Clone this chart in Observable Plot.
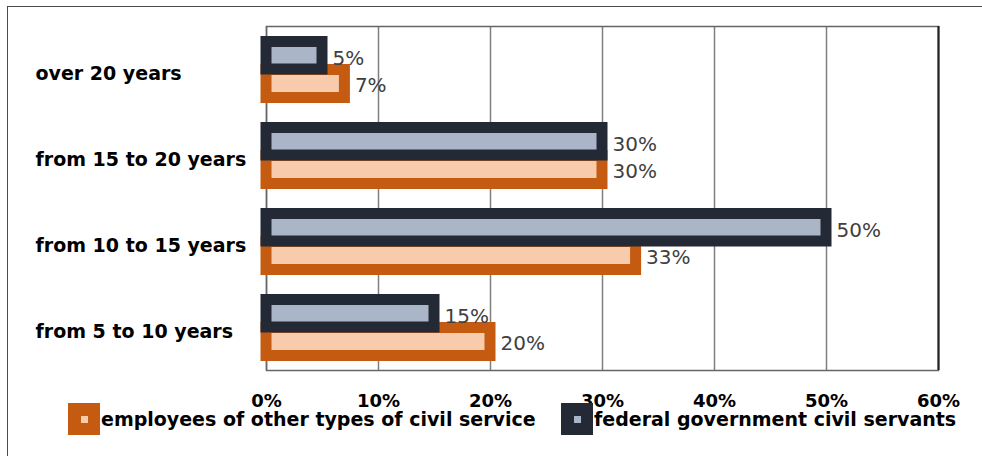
<!DOCTYPE html>
<html><head><meta charset="utf-8">
<script src="https://cdn.jsdelivr.net/npm/d3@7"></script>
<script src="https://cdn.jsdelivr.net/npm/@observablehq/plot@0.6"></script>
<style>
body{margin:0;background:#fff;}
#wrap{position:relative;width:982px;height:456px;overflow:hidden;background:#fff;}
#border{position:absolute;left:7px;top:6px;width:1100px;height:600px;border-left:1.5px solid #4a4a4a;border-top:1.5px solid #4a4a4a;}
#chart{position:absolute;left:0;top:0;}
.lg{position:absolute;top:403px;height:32px;display:flex;align-items:center;white-space:nowrap;}
.sw{position:relative;width:32px;height:32px;box-sizing:border-box;}
.sw i{position:absolute;left:12.5px;top:12.5px;width:7px;height:7px;}
.lt{font-family:"DejaVu Sans";font-weight:bold;font-size:19px;line-height:32px;color:#000;margin-left:1px;}
</style></head><body>
<div id="wrap"><div id="border"></div><div id="chart"></div></div>
<script>
const categories = ["over 20 years","from 15 to 20 years","from 10 to 15 years","from 5 to 10 years"];
const federal = [5,30,50,15];
const other = [7,30,33,20];
const xTicks = [0,10,20,30,40,50,60];
const seriesNames = ["employees of other types of civil service","federal government civil servants"];

const fedData = categories.map((c,i)=>({category:c, value:federal[i]}));
const othData = categories.map((c,i)=>({category:c, value:other[i]}));

const C = {oStroke:"#c55a11", oFill:"#f8cbad", fStroke:"#232a36", fFill:"#aab5c8"};

const plot = Plot.plot({
  width:982, height:456,
  marginTop:26, marginBottom:86, marginLeft:266, marginRight:44,
  x:{domain:[0,60], ticks:xTicks, tickFormat:d=>d+"%", label:null},
  y:{domain:categories, padding:0, axis:null, label:null},
  style:{background:"transparent", fontFamily:"DejaVu Sans"},
  marks:[
    Plot.gridX(xTicks, {stroke:"#7f7f7f", strokeOpacity:1, strokeWidth:1.5}),
    Plot.frame({stroke:"#666", strokeWidth:1.5}),
    Plot.ruleX([60], {stroke:"#222", strokeWidth:2}),
    Plot.barX(othData, {x:"value", y:"category", fill:C.oFill, stroke:C.oStroke, strokeWidth:11, insetTop:43.5, insetBottom:14.5}),
    Plot.barX(fedData, {x:"value", y:"category", fill:C.fFill, stroke:C.fStroke, strokeWidth:11, insetTop:15.5, insetBottom:43}),
    Plot.text(fedData, {x:"value", y:"category", text:d=>d.value+"%", dx:10, dy:-11, textAnchor:"start", fontSize:20, fill:"#404040", fontFamily:"DejaVu Sans"}),
    Plot.text(othData, {x:"value", y:"category", text:d=>d.value+"%", dx:10, dy:16, textAnchor:"start", fontSize:20, fill:"#404040", fontFamily:"DejaVu Sans"}),
    Plot.text(categories, {y:d=>d, text:d=>d, frameAnchor:"left", textAnchor:"start", dx:-231, dy:4, fontSize:19, fontWeight:"bold", fill:"#000", fontFamily:"DejaVu Sans"}),
    Plot.axisX({ticks:xTicks, tickFormat:d=>d+"%", tickSize:0, tickPadding:24, label:null, fontSize:18, fontWeight:"bold", fill:"#000", fontFamily:"DejaVu Sans"})
  ]
});
document.getElementById("chart").appendChild(plot);

const wrap = document.getElementById("wrap");
const legendPos = [68, 561];
const legendCols = [[C.oStroke, C.oFill],[C.fStroke, C.fFill]];
seriesNames.forEach((name,i)=>{
  const d = document.createElement("div");
  d.className = "lg";
  d.style.left = legendPos[i]+"px";
  const sw = document.createElement("span");
  sw.className = "sw";
  sw.style.background = legendCols[i][0];
  const inner = document.createElement("i");
  inner.style.background = legendCols[i][1];
  sw.appendChild(inner);
  const t = document.createElement("span");
  t.className = "lt";
  t.textContent = name;
  d.appendChild(sw); d.appendChild(t);
  wrap.appendChild(d);
});
</script>
</body></html>
